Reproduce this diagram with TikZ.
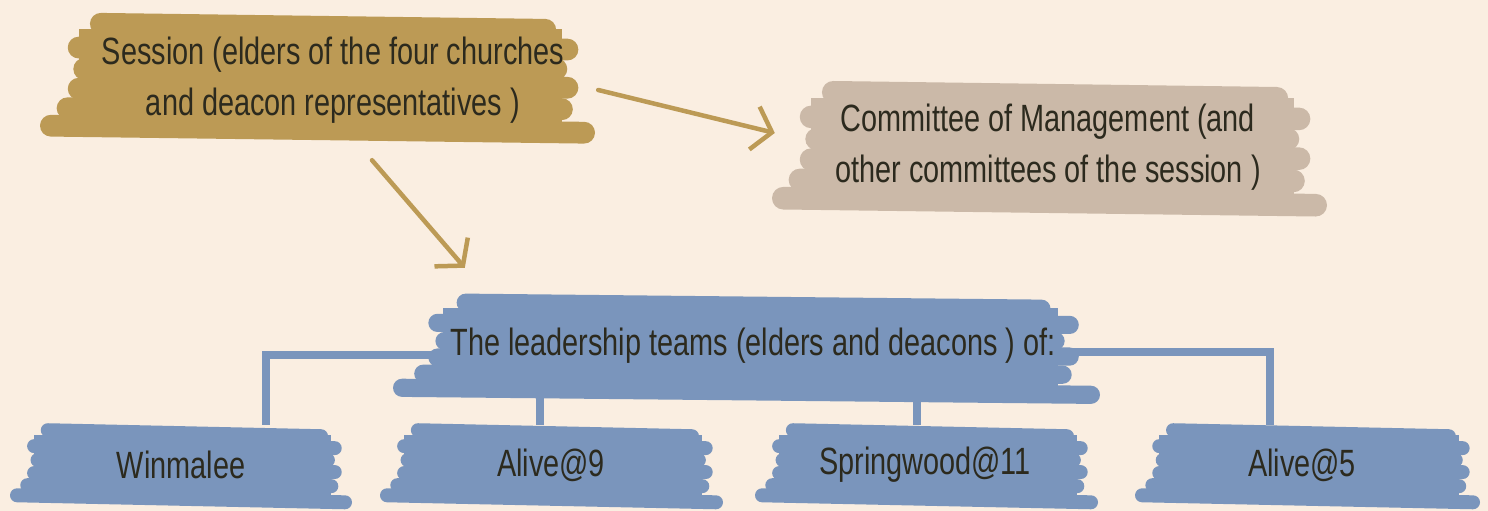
\documentclass[tikz,border=0pt]{standalone}
\usepackage{fontspec}
\setmainfont{Liberation Sans}[FakeStretch=0.76]
\usetikzlibrary{arrows.meta,calc}
\definecolor{bg}{HTML}{FAEEE1}
\definecolor{gold}{HTML}{BC9A55}
\definecolor{taupe}{HTML}{CBB9A8}
\definecolor{lblue}{HTML}{7A95BC}
\definecolor{ink}{HTML}{2C2A1E}
\pgfdeclarelayer{bglayer}
\pgfdeclarelayer{background}
\pgfsetlayers{bglayer,background,main}
\newcommand{\scrib}[5]{%
 \pgfmathsetmacro\scW{#3-#2}%
 \pgfmathsetmacro\scH{#5-#4}%
 \pgfmathsetmacro\scLw{0.17*\scH}%
 \fill[#1] ({#2+0.07*\scW},{#4+0.12*\scH}) rectangle ({#3-0.06*\scW},{#5-0.12*\scH});
 \foreach \t/\a/\b/\d in {0.10/0.09/0.07/6, 0.27/0.05/0.03/2, 0.43/0.06/0.05/0, 0.58/0.05/0.03/-1, 0.74/0.03/0.04/1, 0.90/0.0/0.0/7}{%
  \draw[#1, line width=\scLw pt, line cap=round] ({#2+\a*\scW+0.5*\scLw},{#4+\t*\scH-0.5*\d}) -- ({#3-\b*\scW-0.5*\scLw},{#4+\t*\scH+0.5*\d});
 }%
}
\begin{document}
\begin{tikzpicture}[x=1pt,y=-1pt,
  txt/.style={font=\fontsize{38}{51}\selectfont, text=ink, align=center, inner sep=0pt},
  conn/.style={lblue, line width=8pt},
  arr/.style={gold, line width=4.5pt, line cap=round, -{Straight Barb[length=18pt,width=44pt]}}]
\begin{pgfonlayer}{bglayer}
\fill[bg] (0,0) rectangle (1488,511);
\end{pgfonlayer}
\useasboundingbox (0,0) rectangle (1488,511);

\scrib{gold}{40}{595}{14}{142}
\node[txt, minimum width=520pt, minimum height=125pt] (session) at (333,80) {Session (elders of the four churches\\and deacon representatives )};

\scrib{taupe}{772}{1327}{82}{215}
\node[txt, minimum width=540pt, minimum height=125pt] (committee) at (1048,147) {Committee of Management (and\\other committees of the session )};

\scrib{lblue}{393}{1100}{295}{402}
\node[txt, minimum width=700pt, minimum height=105pt] (leaders) at (753,346) {The leadership teams (elders and deacons ) of:};

\scrib{lblue}{10}{352}{425}{507}
\node[txt, minimum width=340pt, minimum height=80pt] (winmalee) at (181,465) {Winmalee};
\scrib{lblue}{380}{723}{425}{507}
\node[txt, minimum width=340pt, minimum height=80pt] (alive9) at (551,465) {Alive@9};
\scrib{lblue}{755}{1098}{425}{507}
\node[txt, minimum width=340pt, minimum height=80pt] (springwood) at (925,465) {Springwood@11};
\scrib{lblue}{1135}{1480}{425}{507}
\node[txt, minimum width=340pt, minimum height=80pt] (alive5) at (1302,465) {Alive@5};

\begin{pgfonlayer}{background}
\draw[conn] ([yshift=-9pt]leaders.center) -| ([xshift=85pt]winmalee.north);
\draw[conn] ([xshift=-11pt]alive9.north) -- ([xshift=-11pt]alive9.north |- leaders.center);
\draw[conn] ([xshift=-8pt]springwood.north) -- ([xshift=-8pt]springwood.north |- leaders.center);
\draw[conn] ([yshift=-6pt]leaders.center) -| ([xshift=-32pt]alive5.north);
\end{pgfonlayer}

\draw[arr] ([xshift=5pt,yshift=-10pt]session.east) -- ([xshift=-3pt,yshift=14pt]committee.west);
\draw[arr] ([xshift=39pt,yshift=-17.5pt]session.south) -- ([xshift=62pt,yshift=25.5pt]leaders.north west);
\end{tikzpicture}
\end{document}
